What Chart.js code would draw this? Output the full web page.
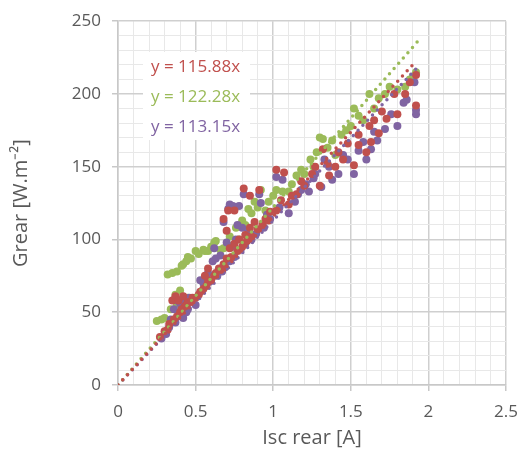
<!DOCTYPE html>
<html>
<head>
<meta charset="utf-8">
<script src="https://cdn.jsdelivr.net/npm/chart.js@4"></script>
<style>
    html, body { margin: 0; padding: 0; background: #ffffff; }
    #box { width: 529px; height: 457px; }
</style>
</head>
<body>
<div id="box"><canvas id="grafico"></canvas></div>
<script>
// pontos medidos (Isc rear [A], Grear [W.m-2])
const redX = [0.27, 0.30, 0.33, 0.35, 0.37, 0.40, 0.43, 0.45, 0.48, 0.52, 0.55, 0.58, 0.62, 0.65, 0.68, 0.70, 0.72, 0.75, 0.78, 0.68, 0.70, 0.82, 0.85, 0.88, 0.81, 0.91, 0.95, 0.98, 1.02, 1.02, 1.07, 1.10, 1.15, 1.20, 1.27, 1.30, 1.32, 1.36, 1.40, 1.45, 1.52, 1.55, 1.60, 1.63, 1.65, 1.68, 1.73, 1.80, 1.85, 1.92, 1.92,
    0.32, 0.36, 0.38, 0.41, 0.44, 0.47, 0.50, 0.53, 0.57, 0.60, 0.63, 0.67, 0.73, 0.77, 0.80, 0.83, 0.86, 0.90, 0.93, 0.97, 0.39, 0.42, 0.56, 0.58, 0.71, 0.75, 0.85, 1.05, 1.12, 1.18, 1.25, 1.35, 1.42, 1.48, 1.55, 1.62, 1.70, 1.78, 1.88]
const redY = [33, 37, 42, 58, 61, 50, 54, 57, 60, 62, 66, 71, 75, 80, 83, 87, 94, 97, 100, 114, 106, 103, 108, 112, 135, 134, 114, 119, 148, 120, 146, 124, 131, 137, 150, 137, 162, 144, 150, 155, 151, 165, 160, 167, 182, 173, 183, 186, 200, 213, 192,
    38, 45, 47, 52, 55, 57, 60, 64, 68, 72, 77, 79, 88, 92, 95, 99, 102, 107, 110, 113, 58, 61, 75, 80, 120, 120, 130, 127, 130, 140, 145, 152, 160, 166, 172, 178, 188, 200, 208]

const greenX = [0.25, 0.30, 0.32, 0.35, 0.38, 0.42, 0.45, 0.50, 0.55, 0.58, 0.62, 0.66, 0.70, 0.72, 0.76, 0.80, 0.84, 0.88, 0.92, 0.97, 1.02, 1.10, 1.15, 1.20, 1.26, 1.30, 1.32, 1.35, 1.40, 1.47, 1.52, 1.58, 1.62, 1.68, 1.75, 1.80, 1.88, 1.92, 1.90,
    0.28, 0.34, 0.37, 0.40, 0.41, 0.44, 0.47, 0.52, 0.56, 0.60, 0.63, 0.68, 0.74, 0.78, 0.82, 0.86, 0.90, 0.95, 1.00, 1.06, 1.12, 1.18, 1.24, 1.28, 1.38, 1.44, 1.50, 1.55, 1.65, 1.72, 1.85, 0.38, 0.45]
const greenY = [44, 46, 76, 77, 78, 83, 88, 92, 93, 92, 98, 93, 95, 102, 108, 113, 121, 126, 134, 126, 134, 133, 144, 145, 150, 170, 169, 163, 158, 175, 190, 182, 200, 197, 205, 203, 210, 215, 212,
    45, 52, 62, 65, 82, 85, 87, 90, 92, 95, 99, 94, 96, 100, 110, 118, 122, 120, 130, 133, 138, 148, 155, 160, 168, 172, 178, 185, 190, 200, 205, 55, 60]

const purpleX = [0.28, 0.31, 0.34, 0.36, 0.38, 0.40, 0.42, 0.44, 0.46, 0.50, 0.53, 0.56, 0.58, 0.61, 0.63, 0.62, 0.66, 0.70, 0.74, 0.76, 0.68, 0.72, 0.78, 0.80, 0.84, 0.81, 0.91, 0.92, 0.96, 1.02, 1.06, 1.10, 1.14, 1.18, 1.23, 1.27, 1.31, 1.33, 1.38, 1.42, 1.48, 1.52, 1.55, 1.60, 1.63, 1.67, 1.72, 1.80, 1.86, 1.91, 1.92,
    0.33, 0.37, 0.39, 0.41, 0.43, 0.45, 0.55, 0.57, 0.59, 0.64, 0.67, 0.69, 0.72, 0.75, 0.79, 0.82, 0.86, 0.89, 0.94, 0.98, 0.71, 0.74, 0.77, 1.04, 1.16, 1.21, 1.26, 1.36, 1.45, 1.58, 1.65, 1.76, 1.84, 1.92]
const purpleY = [32, 35, 45, 52, 58, 56, 46, 50, 60, 55, 72, 72, 77, 85, 87, 94, 89, 98, 95, 100, 112, 124, 123, 108, 105, 131, 131, 125, 117, 143, 141, 118, 126, 134, 133, 145, 136, 155, 141, 145, 155, 145, 161, 155, 162, 168, 176, 178, 196, 208, 189,
    40, 43, 48, 55, 58, 52, 70, 74, 71, 75, 78, 81, 85, 88, 93, 97, 100, 104, 108, 114, 121, 123, 110, 122, 131, 138, 142, 150, 158, 167, 174, 186, 194, 186]

// linhas de tendência (y = a.x)
const slopes = [115.88, 122.28, 113.15]
const trendEndX = [1.92, 1.93, 1.92]
const equations = ["y = 115.88x", "y = 122.28x", "y = 113.15x"]

const xTicks = [0, 0.5, 1, 1.5, 2, 2.5]
const yTicks = [0, 50, 100, 150, 200, 250]

const cores = ["#c0504d", "#9bbb59", "#8064a2"]

function pontos(xs, ys) {
    return xs.map((x, i) => ({ x: x, y: ys[i] }))
}

function tendencia(i) {
    return [{ x: 0, y: 0 }, { x: trendEndX[i], y: slopes[i] * trendEndX[i] }]
}

function principal(v, passo) {
    return Math.abs(v / passo - Math.round(v / passo)) < 1e-6
}

const caixaEquacoes = {
    id: "caixaEquacoes",
    beforeDatasetsDraw(chart) {
        const ctx = chart.ctx
        ctx.save()
        ctx.fillStyle = "#ffffff"
        ctx.fillRect(143, 52, 107, 88)
        ctx.font = "17px 'Open Sans'"
        ctx.textBaseline = "middle"
        ctx.textAlign = "left"
        equations.forEach((eq, i) => {
            ctx.fillStyle = cores[i]
            ctx.fillText(eq, 151, 67 + i * 30)
        })
        ctx.restore()
    }
}

const datasetsTendencia = [0, 1, 2].map((i) => ({
    type: "line",
    data: tendencia(i),
    borderColor: cores[i],
    borderWidth: 3.5,
    borderDash: [0, 7],
    borderCapStyle: "round",
    pointRadius: 0,
    fill: false,
    order: 0
}))

const grafico = document.getElementById("grafico")

new Chart(grafico, {
    type: "scatter",
    data: {
        datasets: [
            { data: pontos(redX, redY), backgroundColor: cores[0], borderWidth: 0, pointRadius: 4, order: 1 },
            { data: pontos(purpleX, purpleY), backgroundColor: cores[2], borderWidth: 0, pointRadius: 4, order: 1 },
            { data: pontos(greenX, greenY), backgroundColor: cores[1], borderWidth: 0, pointRadius: 4, order: 1 },
            ...datasetsTendencia
        ]
    },
    options: {
        responsive: true,
        maintainAspectRatio: false,
        animation: false,
        layout: { padding: { top: 18, right: 13, left: 0, bottom: 0 } },
        plugins: {
            legend: { display: false },
            tooltip: { enabled: false }
        },
        scales: {
            x: {
                type: "linear",
                min: xTicks[0],
                max: xTicks[xTicks.length - 1],
                afterFit: (escala) => { escala.height = 72 },
                afterBuildTicks: (escala) => {
                    const t = []
                    for (let k = 0; k <= 25; k++) t.push({ value: k / 10 })
                    escala.ticks = t
                },
                ticks: {
                    autoSkip: false,
                    maxRotation: 0,
                    padding: 11,
                    color: "#595959",
                    font: { family: "'Open Sans'", size: 17 },
                    callback: (v) => xTicks.find((t) => Math.abs(t - v) < 1e-6) !== undefined ? String(Math.round(v * 10) / 10) : ""
                },
                grid: {
                    color: (c) => principal(c.tick.value, 0.5) ? "#cfcfcf" : "#e8e8e8",
                    lineWidth: (c) => principal(c.tick.value, 0.5) ? 1.5 : 1,
                    tickColor: (c) => principal(c.tick.value, 0.5) ? "#c8c8c8" : "rgba(0,0,0,0)",
                    tickLength: 6
                },
                border: { color: "#c8c8c8", width: 1.5 },
                title: {
                    display: true,
                    text: "Isc rear [A]",
                    color: "#595959",
                    font: { family: "'Open Sans'", size: 20 },
                    padding: { top: 0, bottom: 7 }
                }
            },
            y: {
                type: "linear",
                min: yTicks[0],
                max: yTicks[yTicks.length - 1],
                afterFit: (escala) => { escala.width = 118 },
                afterBuildTicks: (escala) => {
                    const t = []
                    for (let k = 0; k <= 25; k++) t.push({ value: k * 10 })
                    escala.ticks = t
                },
                ticks: {
                    autoSkip: false,
                    padding: 11,
                    color: "#595959",
                    font: { family: "'Open Sans'", size: 17 },
                    callback: (v) => yTicks.includes(v) ? String(v) : ""
                },
                grid: {
                    color: (c) => principal(c.tick.value, 50) ? "#cfcfcf" : "#e8e8e8",
                    lineWidth: (c) => principal(c.tick.value, 50) ? 1.5 : 1,
                    tickColor: (c) => principal(c.tick.value, 50) ? "#c8c8c8" : "rgba(0,0,0,0)",
                    tickLength: 6
                },
                border: { color: "#c8c8c8", width: 1.5 },
                title: {
                    display: true,
                    text: "Grear [W.m⁻²]",
                    color: "#595959",
                    font: { family: "'Open Sans'", size: 20 },
                    padding: { top: 9, bottom: 0 }
                }
            }
        }
    },
    plugins: [caixaEquacoes]
})
</script>
</body>
</html>
